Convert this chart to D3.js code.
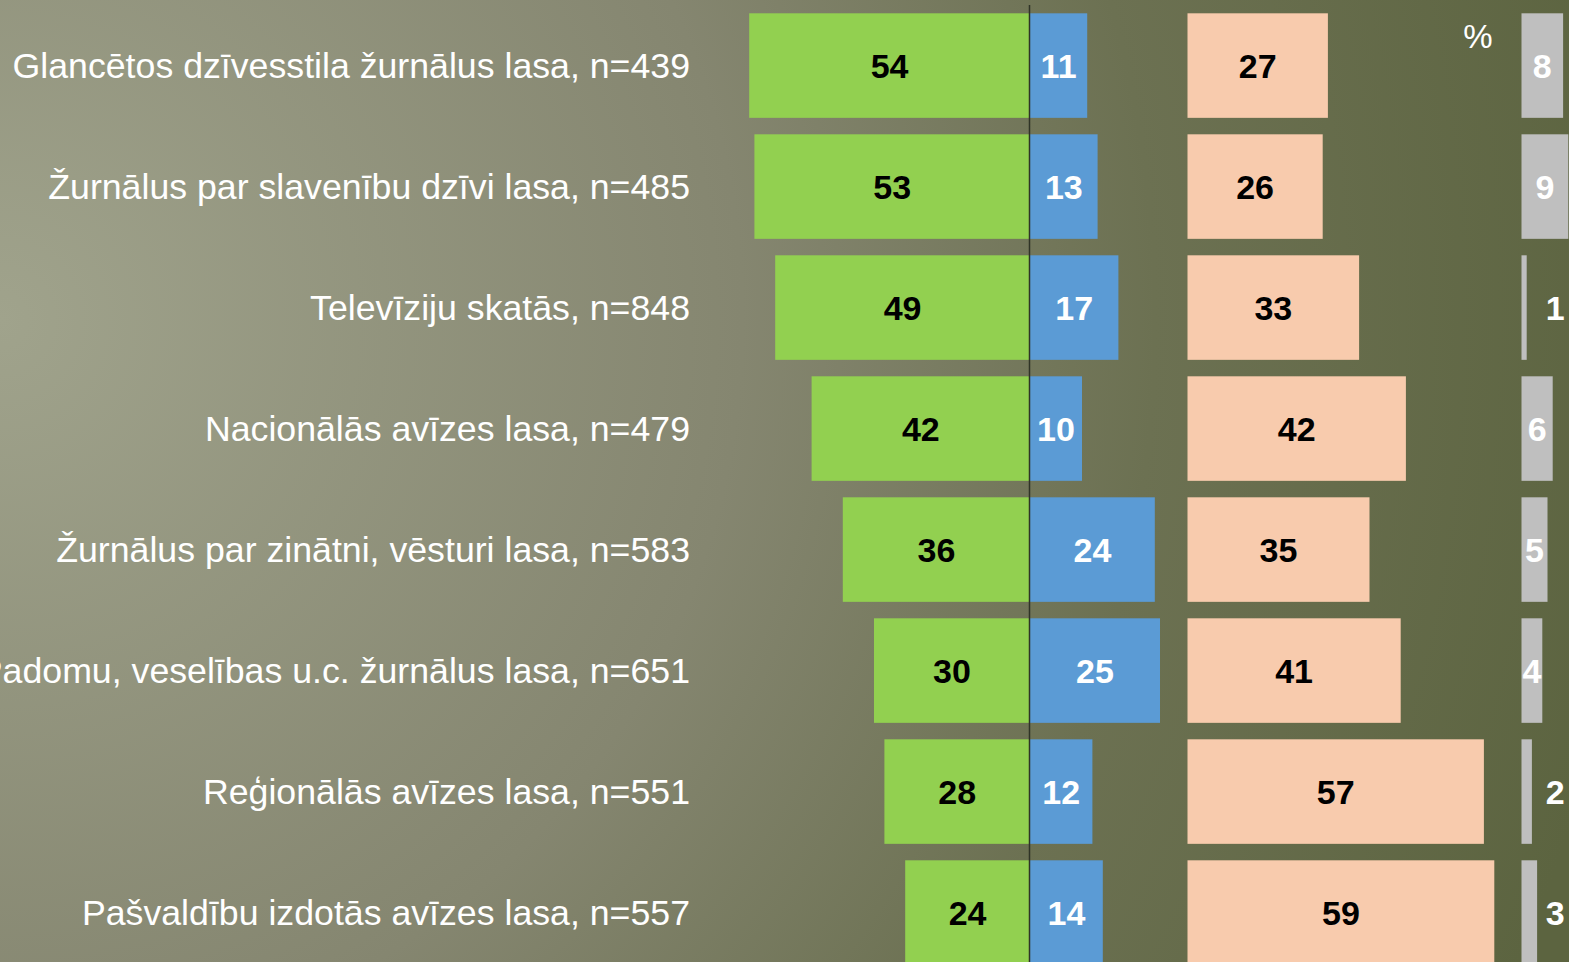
<!DOCTYPE html>
<html>
<head>
<meta charset="utf-8">
<script src="https://cdn.jsdelivr.net/npm/d3@7"></script>
<style>
  html, body { margin: 0; padding: 0; overflow: hidden; }
  svg { display: block; font-family: "Liberation Sans", Arial, sans-serif; }
</style>
</head>
<body>
<svg id="chart"></svg>
<script>
// categories (top to bottom)
const categories = [
    "Glancētos dzīvesstila žurnālus lasa, n=439",
    "Žurnālus par slavenību dzīvi lasa, n=485",
    "Televīziju skatās, n=848",
    "Nacionālās avīzes lasa, n=479",
    "Žurnālus par zinātni, vēsturi lasa, n=583",
    "Padomu, veselības u.c. žurnālus lasa, n=651",
    "Reģionālās avīzes lasa, n=551",
    "Pašvaldību izdotās avīzes lasa, n=557"
];

// series values, %
const greenVals = [54, 53, 49, 42, 36, 30, 28, 24];
const blueVals  = [11, 13, 17, 10, 24, 25, 12, 14];
const peachVals = [27, 26, 33, 42, 35, 41, 57, 59];
const grayVals  = [8, 9, 1, 6, 5, 4, 2, 3];

const W = 1569, H = 962;

const svg = d3.select("#chart")
    .attr("width", W)
    .attr("height", H);

// background gradient
const defs = svg.append("defs");
const grad = defs.append("radialGradient")
    .attr("id", "bg")
    .attr("gradientUnits", "userSpaceOnUse")
    .attr("cx", 0).attr("cy", 320)
    .attr("r", 1650);
grad.append("stop").attr("offset", "0").attr("stop-color", "#a0a38c");
grad.append("stop").attr("offset", "0.45").attr("stop-color", "#858670");
grad.append("stop").attr("offset", "0.7").attr("stop-color", "#6c7152");
grad.append("stop").attr("offset", "1").attr("stop-color", "#5c6440");

svg.append("rect")
    .attr("width", W).attr("height", H)
    .attr("fill", "url(#bg)");

// scales
const y = d3.scaleBand()
    .domain(categories)
    .range([13.3, 13.3 + 121 * (8 - 0.136)])
    .paddingInner(0.136)
    .paddingOuter(0);

const unit = d3.scaleLinear().domain([0, 1]).range([0, 5.2]);

const center = 1030;
const peachStart = 1187.5;
const grayStart = 1521.5;

const rows = categories.map((c, i) => ({
    cat: c,
    green: greenVals[i],
    blue: blueVals[i],
    peach: peachVals[i],
    gray: grayVals[i]
}));

const valFont = 34;
const g = svg.append("g");

// category labels
g.selectAll(".cat")
    .data(rows)
    .enter()
    .append("text")
    .attr("class", "cat")
    .attr("x", 690)
    .attr("y", d => y(d.cat) + y.bandwidth() / 2 + 12)
    .attr("text-anchor", "end")
    .attr("fill", "#ffffff")
    .style("font-size", "35.7px")
    .text(d => d.cat);

// bars
function addBars(cls, color, xFn, wFn) {
    g.selectAll("." + cls)
        .data(rows)
        .enter()
        .append("rect")
        .attr("class", cls)
        .attr("x", xFn)
        .attr("y", d => y(d.cat))
        .attr("width", wFn)
        .attr("height", y.bandwidth())
        .attr("fill", color);
}

addBars("green", "#92d050", d => center - unit(d.green), d => unit(d.green));
addBars("blue", "#5b9bd5", d => center, d => unit(d.blue));
addBars("peach", "#f8cbad", d => peachStart, d => unit(d.peach));
addBars("gray", "#bfbfbf", d => grayStart, d => unit(d.gray));

// value labels
function addLabels(key, color, xFn) {
    g.selectAll(".lbl-" + key)
        .data(rows)
        .enter()
        .append("text")
        .attr("class", "lbl-" + key)
        .attr("x", xFn)
        .attr("y", d => y(d.cat) + y.bandwidth() / 2 + valFont * 0.37)
        .attr("text-anchor", "middle")
        .attr("fill", color)
        .style("font-size", valFont + "px")
        .style("font-weight", "bold")
        .text(d => d[key]);
}

addLabels("green", "#000000", d => center - unit(d.green) / 2);
addLabels("blue", "#ffffff", d => center + unit(d.blue) / 2);
addLabels("peach", "#000000", d => peachStart + unit(d.peach) / 2);
addLabels("gray", "#ffffff", d => d.gray < 4 ? grayStart + unit(6.5) : grayStart + unit(d.gray) / 2);

// center line
svg.append("line")
    .attr("x1", center - 0.5).attr("x2", center - 0.5)
    .attr("y1", 5).attr("y2", H)
    .attr("stroke", "#2f3326")
    .attr("stroke-width", 1.5);

// percent sign
svg.append("text")
    .attr("x", 1478)
    .attr("y", 47.5)
    .attr("text-anchor", "middle")
    .attr("fill", "#ffffff")
    .style("font-size", "33px")
    .text("%");
</script>
</body>
</html>
